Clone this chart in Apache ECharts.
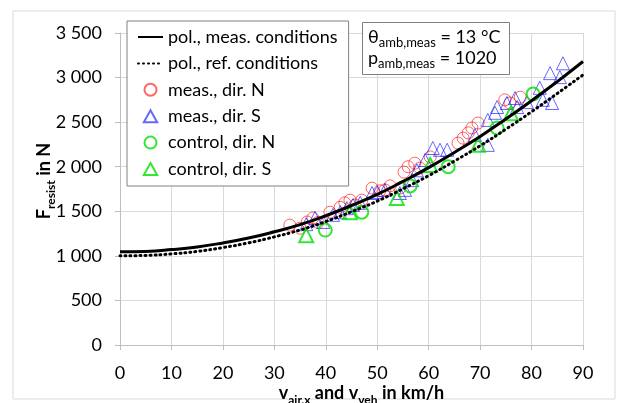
<!DOCTYPE html>
<html>
<head>
<meta charset="utf-8">
<script src="https://cdn.jsdelivr.net/npm/echarts@6/dist/echarts.min.js"></script>
<style>html,body{margin:0;padding:0;background:#fff}#c{width:619px;height:403px}</style>
</head>
<body>
<div id="c"></div>
<script>
// ---- data ----
const velocity = [0, 5, 10, 15, 20, 25, 30, 35, 40, 45, 50, 55, 60, 65, 70, 75, 80, 85, 90];
const polMeas = [1045, 1050, 1070, 1100, 1145, 1200, 1270, 1350, 1450, 1565, 1690, 1835, 1990, 2160, 2340, 2535, 2740, 2955, 3180];
const polRef  = [1000, 1005, 1022, 1050, 1093, 1146, 1213, 1290, 1385, 1495, 1614, 1752, 1900, 2063, 2235, 2421, 2617, 2822, 3030];

const measN = [[33,1345],[35,1310],[36.4,1380],[37.5,1425],[38.5,1375],[40.8,1490],[42.8,1545],[43.7,1595],[44.7,1625],[45.7,1570],[47,1625],[49,1760],[50.5,1730],[51.5,1740],[52.5,1785],[54.4,1760],[55.2,1940],[56,2000],[57.3,2040],[58.3,1985],[60.3,2110],[65.7,2265],[66.7,2320],[67.7,2380],[68.4,2435],[69.6,2490],[74.8,2750],[75.8,2715],[77.8,2780]];
const measS = [[36.2,1355],[37.9,1425],[39.5,1380],[41.4,1460],[42.8,1490],[44.1,1535],[45.3,1570],[46.7,1595],[49,1705],[50,1715],[51.5,1740],[54.4,1705],[55.4,1740],[56.8,1850],[57.7,1960],[59.3,2075],[60.8,2210],[62.2,2190],[63.6,2190],[69,2355],[71.5,2245],[71.5,2525],[72.9,2605],[73.3,2670],[75.2,2715],[76.8,2770],[77.2,2670],[79.1,2725],[81.6,2885],[82.2,2750],[84,2715],[83.6,3050],[85.5,3005],[86.1,3160]];
const controlN = [[39.9,1290],[47,1490],[56.4,1785],[63.8,2000],[73.3,2435],[80.3,2815]];
const controlS = [[36.2,1230],[44.7,1490],[53.8,1650],[60.3,2020],[69.6,2245],[76,2600]];

const xTicks = {min: 0, max: 90, step: 10};
const yTicks = {min: 0, max: 3500, step: 500};

const seriesNames = ['pol., meas. conditions', 'pol., ref. conditions', 'meas., dir. N', 'meas., dir. S', 'control, dir. N', 'control, dir. S'];

const FONT = 'Lato';
const TRI = 'path://M5,0 L10,9 L0,9 Z';
const chart = echarts.init(document.getElementById('c'));
const zip = (xs, ys) => xs.map((x, i) => [x, ys[i]]);

function hollow(name, data, symbol, color, bw, size) {
  return {
    name: name, type: 'scatter', data: data, symbol: symbol, symbolSize: size,
    itemStyle: {color: 'rgba(255,255,255,0)', borderColor: color, borderWidth: bw},
    z: 2
  };
}

chart.setOption({
  animation: false,
  backgroundColor: '#fff',
  textStyle: {fontFamily: FONT},
  grid: {left: 120, right: 36, top: 33, bottom: 58, containLabel: false, outerBoundsMode: 'none'},
  title: {
    text: '{t|θ}{s|amb,meas}{t| = 13 °C}\n{t|p}{s|amb,meas}{t| = 1020}',
    left: 362, top: 22,
    padding: [6, 9, 5, 6],
    borderColor: '#808080', borderWidth: 1, backgroundColor: '#fff',
    textStyle: {
      fontFamily: FONT, fontWeight: 'normal',
      rich: {
        t: {fontFamily: FONT, fontSize: 18, fontWeight: 'normal', color: '#000', lineHeight: 21, verticalAlign: 'bottom', padding: [0, 0, 3, 0]},
        s: {fontFamily: FONT, fontSize: 13, fontWeight: 'normal', color: '#000', lineHeight: 21, verticalAlign: 'bottom'}
      }
    }
  },
  legend: {
    orient: 'vertical', left: 127, top: 21,
    padding: [7, 11, 8, 10],
    backgroundColor: '#fff', borderColor: '#808080', borderWidth: 1,
    itemWidth: 25, itemHeight: 12, itemGap: 8.4,
    textStyle: {fontFamily: FONT, fontSize: 18, color: '#000'},
    data: [
      {name: seriesNames[0], itemStyle: {opacity: 0}},
      {name: seriesNames[1], itemStyle: {opacity: 0}},
      {name: seriesNames[2], icon: 'circle'},
      {name: seriesNames[3], icon: TRI},
      {name: seriesNames[4], icon: 'circle'},
      {name: seriesNames[5], icon: TRI}
    ]
  },
  xAxis: {
    type: 'value', min: xTicks.min, max: xTicks.max, interval: xTicks.step,
    name: '{b|v}{s|air,x}{b| and v}{s|veh}{b| in km/h}',
    nameLocation: 'middle', nameGap: 41, nameMoveOverlap: false,
    nameTextStyle: {
      padding: [0, 0, 0, 20],
      rich: {
        b: {fontFamily: FONT, fontSize: 18, fontWeight: 'bold', color: '#000', verticalAlign: 'bottom', lineHeight: 20, padding: [0, 0, 4, 0]},
        s: {fontFamily: FONT, fontSize: 12, fontWeight: 'bold', color: '#000', verticalAlign: 'bottom', lineHeight: 20}
      }
    },
    axisLine: {show: true, onZero: false, lineStyle: {color: '#bfbfbf'}},
    axisTick: {show: true, length: 5, lineStyle: {color: '#bfbfbf'}},
    axisLabel: {fontFamily: FONT, fontSize: 18, color: '#000', margin: 19},
    splitLine: {show: true, lineStyle: {color: '#d9d9d9'}}
  },
  yAxis: {
    type: 'value', min: yTicks.min, max: yTicks.max, interval: yTicks.step,
    name: '{b|F}{s|resist}{b| in N}',
    nameLocation: 'middle', nameGap: 63, nameRotate: 90, nameMoveOverlap: false,
    nameTextStyle: {
      padding: [0, 0, 0, 16],
      rich: {
        b: {fontFamily: FONT, fontSize: 18, fontWeight: 'bold', color: '#000', verticalAlign: 'bottom', lineHeight: 20, padding: [0, 0, 4, 0]},
        s: {fontFamily: FONT, fontSize: 12, fontWeight: 'bold', color: '#000', verticalAlign: 'bottom', lineHeight: 20}
      }
    },
    axisLine: {show: true, lineStyle: {color: '#bfbfbf'}},
    axisTick: {show: true, length: 5, lineStyle: {color: '#bfbfbf'}},
    axisLabel: {
      fontFamily: FONT, fontSize: 18, color: '#000', margin: 18,
      formatter: v => {
        const s = String(v);
        return s.length > 3 ? s.slice(0, s.length - 3) + ' ' + s.slice(-3) : s;
      }
    },
    splitLine: {show: true, lineStyle: {color: '#d9d9d9'}}
  },
  graphic: [{
    type: 'rect', shape: {x: 13, y: 11, width: 602, height: 388},
    style: {fill: 'none', stroke: '#d9d9d9', lineWidth: 1}, silent: true, z: -10
  }],
  series: [
    {
      name: seriesNames[0], type: 'line', data: zip(velocity, polMeas), smooth: true,
      symbol: 'none', lineStyle: {color: '#000', width: 3}, itemStyle: {color: '#000'}, z: 5
    },
    {
      name: seriesNames[1], type: 'line', data: zip(velocity, polRef), smooth: true,
      symbol: 'none', lineStyle: {color: '#000', width: 3, type: [1, 4], cap: 'round'}, itemStyle: {color: '#000'}, z: 5
    },
    hollow(seriesNames[2], measN, 'circle', 'rgba(255,0,0,0.75)', 1, 12),
    hollow(seriesNames[3], measS, TRI, 'rgba(0,0,255,0.75)', 1, 13),
    hollow(seriesNames[4], controlN, 'circle', '#00e000', 2, 13),
    hollow(seriesNames[5], controlS, TRI, '#00e000', 2, 14)
  ]
});
</script>
</body>
</html>
